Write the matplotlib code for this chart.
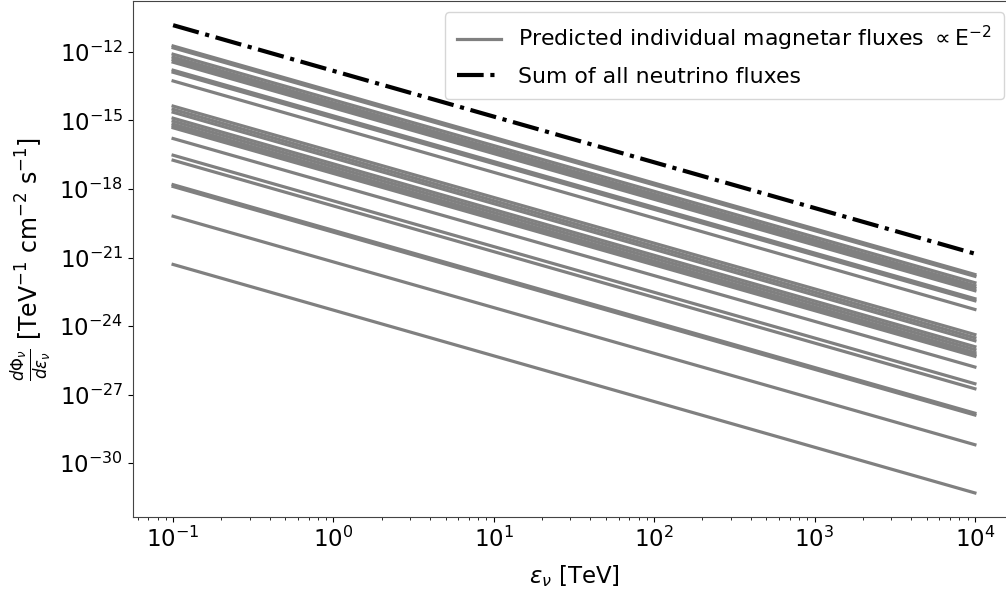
import numpy as np
import matplotlib
matplotlib.use("Agg")
import matplotlib.pyplot as plt
from matplotlib.ticker import NullLocator

# Energy range (TeV)
energy_min = 0.1
energy_max = 1e4

# log10 of individual magnetar flux normalisations at E = 0.1 TeV
log_flux_at_01 = [
    -11.74, -11.82,
    -12.10, -12.23, -12.34, -12.45,
    -12.80, -12.89,
    -13.27,
    -14.37, -14.51, -14.64,
    -14.90, -15.03, -15.16, -15.25, -15.32,
    -15.79,
    -16.52, -16.74,
    -17.81, -17.89,
    -19.19,
    -21.30,
]
# log10 of summed flux at E = 0.1 TeV
log_sum_at_01 = -10.83
spectral_index = 2.0

y_tick_exponents = [-30, -27, -24, -21, -18, -15, -12]

E = np.array([energy_min, energy_max])

fig = plt.figure(figsize=(10.06, 5.99), dpi=100)
# axes extends slightly beyond the right edge (reference is cropped there)
ax = fig.add_axes([133 / 1006, 0.137, (1015 - 133) / 1006, 0.861])

for i, lf in enumerate(log_flux_at_01):
    flux = 10**lf * (E / energy_min) ** (-spectral_index)
    ax.plot(E, flux, color='gray', lw=2.3,
            label=r'Predicted individual magnetar fluxes $\propto \mathrm{E}^{-2}$' if i == 0 else None)

sum_flux = 10**log_sum_at_01 * (E / energy_min) ** (-spectral_index)
ax.plot(E, sum_flux, color='black', lw=3, ls='-.', label='Sum of all neutrino fluxes')

ax.set_xscale('log')
ax.set_yscale('log')
ax.set_xlim(10**-1.25, 10**4.25)
ax.set_ylim(10**-32.35, 10**-9.78)

ax.set_yticks([10.0**k for k in y_tick_exponents])
ax.yaxis.set_minor_locator(NullLocator())

ax.tick_params(axis='both', which='major', labelsize=16.5)
ax.set_xlabel(r'$\varepsilon_\nu$ [TeV]', fontsize=16.5, labelpad=8)
ax.set_ylabel(r'$\frac{d\Phi_\nu}{d\varepsilon_\nu}$ [TeV$^{-1}$ cm$^{-2}$ s$^{-1}$]', fontsize=17)

for s in ax.spines.values():
    s.set_color('#444444')

ax.legend(loc='upper right', fontsize=15.8, labelspacing=0.62, borderpad=0.55)

fig.savefig('out.png', dpi=100)
